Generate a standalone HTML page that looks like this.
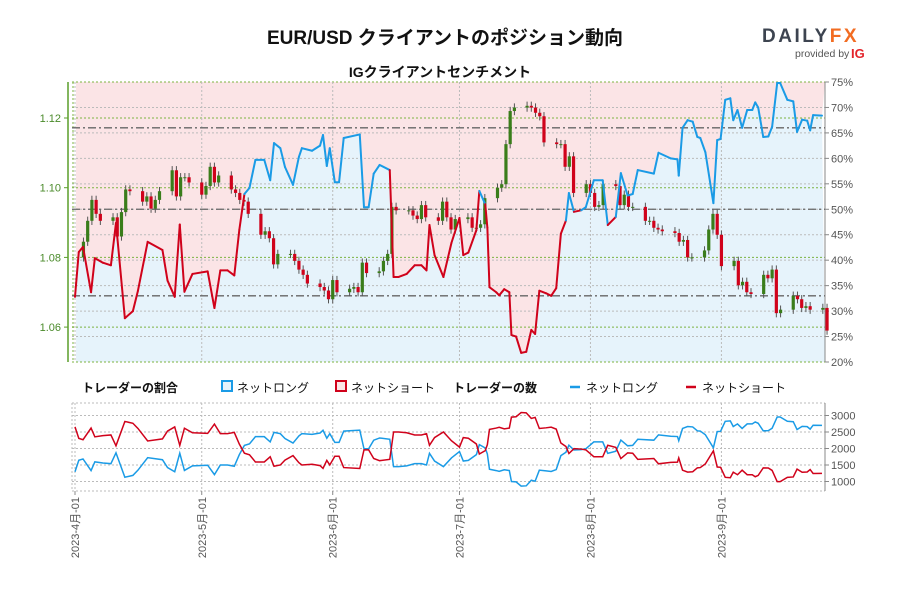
<!DOCTYPE html>
<html><head><meta charset="utf-8"><style>
body{margin:0;background:#fff;}
svg text{font-family:"Liberation Sans","Noto Sans CJK JP",sans-serif;}
</style></head><body>
<svg id="chart" width="900" height="600" viewBox="0 0 900 600" xmlns="http://www.w3.org/2000/svg">
<rect width="900" height="600" fill="#fff"/>
<text x="445" y="44" text-anchor="middle" font-size="19" font-weight="bold" fill="#111">EUR/USD クライアントのポジション動向</text>
<text x="440" y="77" text-anchor="middle" font-size="14" font-weight="bold" fill="#111">IGクライアントセンチメント</text>
<g>
<text x="762" y="42" font-size="19" font-weight="bold" fill="#3d4450" letter-spacing="2.5">DAILY<tspan fill="#f26c22">FX</tspan></text>
<text x="795" y="57" font-size="10.5" fill="#555">provided by</text>
<text x="851" y="58" font-size="13" font-weight="bold" fill="#e3242b">IG</text>
</g>
<g id="main"></g>
<g id="legend">
<text x="82" y="392" font-size="12" font-weight="bold" fill="#111">トレーダーの割合</text>
<rect x="222" y="381" width="10" height="10" fill="#e6f3fb" stroke="#1a9be6" stroke-width="2"/>
<text x="237" y="392" font-size="12" fill="#111">ネットロング</text>
<rect x="336" y="381" width="10" height="10" fill="#fbe5e6" stroke="#d0021b" stroke-width="2"/>
<text x="351" y="392" font-size="12" fill="#111">ネットショート</text>
<text x="453" y="392" font-size="12" font-weight="bold" fill="#111">トレーダーの数</text>
<line x1="570" y1="387" x2="580" y2="387" stroke="#1a9be6" stroke-width="2.5"/>
<text x="586" y="392" font-size="12" fill="#111">ネットロング</text>
<line x1="686" y1="387" x2="696" y2="387" stroke="#d0021b" stroke-width="2.5"/>
<text x="702" y="392" font-size="12" fill="#111">ネットショート</text>
</g>
<g id="bottom"></g>
</svg>
<script>
// ---- data ----
const monthLabels=["2023-4月-01","2023-5月-01","2023-6月-01","2023-7月-01","2023-8月-01","2023-9月-01"];
const monthDays=[0,30,61,91,122,153];
const priceTicks=[1.06,1.08,1.10,1.12];
const pctTicks=[20,25,30,35,40,45,50,55,60,65,70,75];
const countTicks=[1000,1500,2000,2500,3000];
const refLevels=[33,50,66];
const closes=[1.0845,1.0905,1.0965,1.0925,1.0905,
1.0915,1.0860,1.0930,1.0995,1.0990,
1.0960,1.0975,1.0940,1.0965,1.0990,
1.1050,1.0975,1.1030,1.1030,1.1015,
1.0980,1.1005,1.1060,1.1015,1.1035,
1.0995,1.0985,1.0965,1.0960,1.0925,
1.0865,1.0875,1.0855,1.0780,1.0810,
1.0810,1.0790,1.0765,1.0750,1.0725,
1.0715,1.0705,1.0680,1.0735,1.0700,
1.0710,1.0715,1.0700,1.0785,1.0755,
1.0760,1.0790,1.0810,1.0945,1.0935,
1.0935,1.0920,1.0910,1.0950,1.0915,
1.0905,1.0960,1.0915,1.0880,1.0910,
1.0915,1.0885,1.0885,1.0895,1.0970,
1.1000,1.1010,1.1125,1.1220,1.1230,
1.1235,1.1230,1.1215,1.1205,1.1130,
1.1125,1.1125,1.1060,1.1090,1.0985,
1.1010,1.0985,1.0945,1.0950,1.1010,
1.1005,1.0950,1.0980,1.0945,1.0945,
1.0905,1.0905,1.0885,1.0880,1.0875,
1.0870,1.0845,1.0850,1.0800,1.0800,
1.0820,1.0880,1.0925,1.0865,1.0775,
1.0790,1.0720,1.0730,1.0700,1.0695,
1.0750,1.0740,1.0765,1.0640,1.0650,
1.0690,1.0680,1.0655,1.0660,1.0650,
1.0655,1.0590];
const firstOpen=1.0800;
const sentDays=[0,0.9,1.9,3.8,4.7,6.6,8.5,9.7,11.8,13.7,14.9,17.2,20.7,21.9,23.6,24.8,25.9,27.8,31.4,33,34.4,36.1,37.7,38.9,40.1,41.3,42.7,44.8,46.2,47.1,48.6,49.7,51.6,53,53.7,56.1,58,58.7,59.6,60.3,61.5,62.5,63.6,67.4,68.4,69.5,70.7,72.1,74.5,75.4,76.6,78.5,80.4,82,83.2,83.9,85.1,87.2,89.1,91,91.9,93.1,95,95.7,97.1,97.6,98.1,99.7,100.4,101.6,102.8,103.3,104.4,105.6,106.8,108,108.9,109.9,111.5,112.7,113.9,115,116.2,116.9,118.1,119.8,120.9,122.8,124.9,126.1,128,129.2,130.8,132,133.2,137,138.1,141,142.6,142.9,143.8,145,146.2,147.3,148,149.2,151.1,152,152.8,153.9,155.1,155.8,156.8,157.9,159.1,160.3,161,161.7,162.9,164.1,165,166.2,166.9,168.6,170,170.9,172.1,173.3,174,174.7,176.8];
const longPct=[32.8,41.6,42.6,33.7,40.4,39.5,39,47.3,28.6,30,34,43.6,42,36,32.8,47,33.8,37.3,37.8,30.6,38,38,37,46,53,54.2,59.7,59.7,55.7,63,62,58.3,54.8,60.3,62,61.5,62.5,64.6,58.5,62,55.3,55.3,64,64.7,50.4,50.4,57,58.7,57.7,36.7,36.7,37.3,39,39,38,46.9,41,36.7,43.4,48.3,41,41.5,45.9,53.6,51,46.4,34.7,33.7,33.1,34.3,33.7,25.3,25,21.8,22,26.3,25.5,34,33.5,33,34.5,45.2,47.8,53.2,49.5,49.8,50.4,55.7,55.7,46.9,48.5,57.1,52.7,53,57.7,57,61.1,60,59.8,56.6,66,67.5,67.2,64.2,64,61.2,51.2,63.6,63.8,71.5,71.8,67.5,69.5,66,69.5,69.5,71,70,64.2,64.3,66.2,74.8,74.8,71.5,71.2,65.2,67.6,67.4,65.5,68.5,68.4];
const longCount=[1296,1643,1683,1331,1596,1560,1540,1868,1130,1185,1343,1722,1659,1422,1296,1857,1335,1473,1493,1209,1501,1501,1462,1817,2094,2141,2358,2358,2200,2489,2449,2303,2165,2382,2449,2429,2469,2552,2311,2449,2184,2184,2528,2556,1991,1991,2252,2319,2279,1450,1450,1473,1541,1541,1501,1853,1620,1450,1714,1908,1620,1639,1813,2117,2015,1833,1371,1331,1307,1355,1331,999,988,861,869,1039,1007,1343,1323,1304,1363,1785,1888,2101,1955,1967,1991,2200,2200,1853,1916,2255,2082,2094,2279,2252,2413,2370,2362,2236,2607,2666,2654,2536,2528,2417,2022,2512,2520,2824,2836,2666,2745,2607,2745,2745,2805,2765,2536,2540,2615,2955,2955,2824,2812,2575,2670,2662,2587,2706,2702];
const shortCount=[2654,2307,2267,2619,2354,2390,2410,2082,2820,2765,2607,2228,2291,2528,2654,2093,2615,2477,2457,2741,2449,2449,2488,2133,1856,1809,1592,1592,1750,1461,1501,1647,1785,1568,1501,1521,1481,1398,1639,1501,1766,1766,1422,1394,1959,1959,1698,1631,1671,2500,2500,2477,2409,2409,2449,2097,2330,2500,2236,2042,2330,2311,2137,1833,1935,2117,2579,2619,2643,2595,2619,2951,2962,3089,3081,2911,2943,2607,2627,2646,2587,2165,2062,1849,1995,1983,1959,1750,1750,2097,2034,1695,1868,1856,1671,1698,1537,1580,1588,1714,1343,1284,1296,1414,1422,1533,1928,1438,1430,1126,1114,1284,1205,1343,1205,1205,1145,1185,1414,1410,1335,995,995,1126,1138,1375,1280,1288,1363,1244,1248];

// ---- scales ----
const L=72,R=825,T=82,B=362,BT=403,BB=491;
const xd=d=>75+d*4.225;
const yP=p=>118+(1.12-p)/0.02*69.7;
const yPct=v=>T+(75-v)/55*(B-T);
const yC=v=>481.5-(v-1000)/2000*66;
const NS="http://www.w3.org/2000/svg";
function mk(parent,tag,attrs){const e=document.createElementNS(NS,tag);for(const k in attrs)e.setAttribute(k,attrs[k]);parent.appendChild(e);return e;}
const main=document.getElementById('main'), bot=document.getElementById('bottom');

const tdays=[];
{let dt=new Date(Date.UTC(2023,3,1));for(let d=0;tdays.length<closes.length;d++){const w=new Date(dt.getTime()+d*864e5).getUTCDay();if(w!==0&&w!==6&&d>=2)tdays.push(d);}}

let linePts=sentDays.map((d,i)=>xd(d).toFixed(1)+','+yPct(longPct[i]).toFixed(1));
const x0=xd(sentDays[0]),x1=xd(sentDays[sentDays.length-1]);
const redArea=mk(main,'polygon',{points:x0+','+T+' '+linePts.join(' ')+' '+Math.max(x1,R)+','+T,fill:'#fbe4e6'});


const blueArea=mk(main,'polygon',{points:x0+','+B+' '+linePts.join(' ')+' '+Math.max(x1,R)+','+B,fill:'#e6f3fb'});


mk(main,'rect',{x:L-4,y:T,width:8,height:B-T,fill:'#fff'});

pctTicks.forEach(v=>{const y=yPct(v);mk(main,'line',{x1:L,x2:R,y1:y,y2:y,stroke:'#bbb','stroke-dasharray':'2,2','stroke-width':1});
 mk(main,'line',{x1:R,x2:R+4,y1:y,y2:y,stroke:'#888'});
 const t=mk(main,'text',{x:R+6,y:y+4,'font-size':11,fill:'#555'});t.textContent=v+'%';
 
 });
priceTicks.forEach(v=>{const y=yP(v);mk(main,'line',{x1:L,x2:R,y1:y,y2:y,stroke:'#7cb342','stroke-dasharray':'2,2'});
 mk(main,'line',{x1:64,x2:68,y1:y,y2:y,stroke:'#5a9e2a'});
 const t=mk(main,'text',{x:61,y:y+4,'font-size':11,fill:'#4a8a2a','text-anchor':'end'});t.textContent=v.toFixed(2);
 
 });
[T,B].forEach(y=>mk(main,'line',{x1:L,x2:R,y1:y,y2:y,stroke:'#7cb342','stroke-dasharray':'2,2'}));
mk(main,'line',{x1:L+1,x2:L+1,y1:T,y2:B,stroke:'#7cb342','stroke-dasharray':'2,2'});
monthDays.forEach(d=>{const x=xd(d);mk(main,'line',{x1:x,x2:x,y1:T,y2:B,stroke:'#bbb','stroke-dasharray':'2,2'});});
mk(main,'line',{x1:68,x2:68,y1:T,y2:B,stroke:'#5a9e2a','stroke-width':1.5});
mk(main,'line',{x1:R,x2:R,y1:T,y2:B,stroke:'#888'});
refLevels.forEach(v=>{const y=yPct(v);const l=mk(main,'line',{x1:L,x2:R,y1:y,y2:y,stroke:'#666','stroke-width':1.3,'stroke-dasharray':'8,3,2,3'});
 
 });

closes.forEach((c,i)=>{const o=i?closes[i-1]:firstOpen;const x=xd(tdays[i]);const hi=Math.max(o,c)+0.0012,lo=Math.min(o,c)-0.0012;
 const g=mk(main,'g',{});
 
 
 mk(g,'line',{x1:x,x2:x,y1:yP(hi),y2:yP(lo),stroke:'#555','stroke-width':1});
 const y1=yP(Math.max(o,c)),y2=yP(Math.min(o,c));
 mk(g,'rect',{x:x-1.6,y:y1,width:3.2,height:Math.max(1,y2-y1),fill:c>=o?'#3a7d1a':'#d0021b'});});

for(let i=1;i<sentDays.length;i++){const a=(longPct[i]+longPct[i-1])/2;
 const s=mk(main,'line',{x1:xd(sentDays[i-1]),y1:yPct(longPct[i-1]),x2:xd(sentDays[i]),y2:yPct(longPct[i]),stroke:a>=50?'#1a9be6':'#d0021b','stroke-width':2,'stroke-linecap':'round'});
 
 }

countTicks.forEach(v=>{const y=yC(v);mk(bot,'line',{x1:L,x2:R,y1:y,y2:y,stroke:'#bbb','stroke-dasharray':'2,2'});
 mk(bot,'line',{x1:R,x2:R+4,y1:y,y2:y,stroke:'#888'});
 const t=mk(bot,'text',{x:R+6,y:y+4,'font-size':11,fill:'#555'});t.textContent=v;
 
 });
[BT,BB].forEach(y=>mk(bot,'line',{x1:L,x2:R,y1:y,y2:y,stroke:'#bbb','stroke-dasharray':'2,2'}));
mk(bot,'line',{x1:L,x2:L,y1:BT,y2:BB,stroke:'#bbb','stroke-dasharray':'2,2'});
mk(bot,'line',{x1:R,x2:R,y1:BT,y2:BB,stroke:'#888'});
monthDays.forEach((d,i)=>{const x=xd(d);mk(bot,'line',{x1:x,x2:x,y1:BT,y2:BB,stroke:'#bbb','stroke-dasharray':'2,2'});
 mk(bot,'line',{x1:x,x2:x,y1:BB,y2:BB+4,stroke:'#888'});
 const t=mk(bot,'text',{x:0,y:0,'font-size':11,fill:'#555','text-anchor':'end',transform:`translate(${x+4},${BB+6}) rotate(-90)`});t.textContent=monthLabels[i];
 
 });
const lp=mk(bot,'polyline',{points:sentDays.map((d,i)=>xd(d)+','+yC(longCount[i])).join(' '),fill:'none',stroke:'#1a9be6','stroke-width':1.5});


const sp=mk(bot,'polyline',{points:sentDays.map((d,i)=>xd(d)+','+yC(shortCount[i])).join(' '),fill:'none',stroke:'#d0021b','stroke-width':1.5});


</script>
</body></html>
